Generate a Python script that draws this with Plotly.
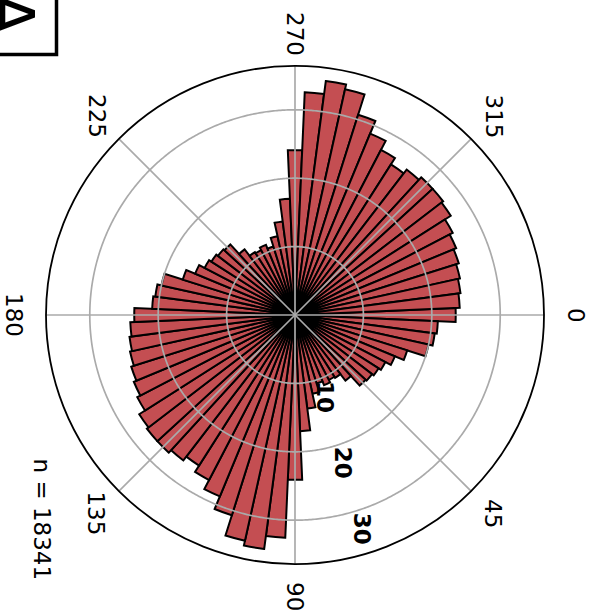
import numpy as np
import plotly.graph_objects as go

# ---- data (5-degree bins, clockwise from east) ----
bin_centers = list(range(0, 360, 5))
counts = [
    23.5, 20.9, 20.6, 20.0, 17.2, 15.8, 14.9, 14.5, 14.2, 14.0,   # 0-45
    12.1, 10.9, 10.7, 11.1, 10.5, 11.8, 13.8, 17.0,               # 50-85
    24.1, 32.6, 34.5, 33.8, 30.7, 28.7, 27.2, 26.1, 26.8,         # 90-130
    27.3, 27.3, 27.0, 26.0, 25.5, 25.1, 24.7, 24.4, 24.1,         # 135-175
    23.5, 20.9, 20.6, 20.0, 17.2, 15.8, 14.9, 14.5, 14.2, 14.0,   # 180-225
    12.1, 10.9, 10.7, 11.1, 10.5, 11.8, 13.8, 17.0,               # 230-265
    24.1, 32.6, 34.5, 33.8, 30.7, 28.7, 27.2, 26.1, 26.8,         # 270-310
    27.3, 27.3, 27.0, 26.0, 25.5, 25.1, 24.7, 24.4, 24.1,         # 315-355
]
bin_width = 5
angle_ticks = [0, 45, 90, 135, 180, 225, 270, 315]
radial_ticks = [10, 20, 30]
n_label = "n = 18341"
panel_label = "A"

# ---- layout geometry (pixels) ----
W, H = 596, 615
CX, CY = 295, 315
R_PX = 249
R_MAX = 36.4
FONT = "DejaVu Sans"
BAR_COLOR = "#C44E52"
GRID = "#aaaaaa"


def px(x):
    return x / W


def py(y):
    return 1 - y / H


fig = go.Figure()
fig.add_trace(go.Barpolar(
    r=counts, theta=bin_centers, width=[bin_width] * len(counts),
    marker=dict(color=BAR_COLOR, line=dict(color="black", width=2.0)),
    hoverinfo="skip",
))

# grid drawn above the bars (as in the reference)
circ_theta = np.linspace(0, 360, 721)
for rv in radial_ticks:
    fig.add_trace(go.Scatterpolar(
        r=[rv] * len(circ_theta), theta=circ_theta, mode="lines",
        line=dict(color=GRID, width=1.7), hoverinfo="skip", showlegend=False))
spoke_r, spoke_t = [], []
for a in angle_ticks:
    spoke_r += [0, R_MAX, None]
    spoke_t += [a, a, None]
fig.add_trace(go.Scatterpolar(
    r=spoke_r, theta=spoke_t, mode="lines",
    line=dict(color=GRID, width=1.7), hoverinfo="skip", showlegend=False))

annotations = []
# angular labels (rotated like the reference)
for a in angle_ticks:
    ang = np.deg2rad(a)
    x = CX + 281 * np.cos(ang)
    y = CY + 281 * np.sin(ang)
    annotations.append(dict(
        x=px(x), y=py(y), xref="paper", yref="paper", text=str(a),
        showarrow=False, textangle=90, xanchor="center", yanchor="middle",
        font=dict(family=FONT, size=23, color="black")))

# radial labels (bold)
scale = R_PX / R_MAX
phi = np.deg2rad(74)
for rv in radial_ticks:
    x = CX + rv * scale * np.cos(phi) + 10.5
    y = CY + rv * scale * np.sin(phi) + 16.5
    annotations.append(dict(
        x=px(x), y=py(y), xref="paper", yref="paper", text="<b>%d</b>" % rv,
        showarrow=False, textangle=90, xanchor="center", yanchor="middle",
        font=dict(family=FONT, size=23, color="black")))

# n label
annotations.append(dict(
    x=px(41.5), y=py(519), xref="paper", yref="paper", text=n_label,
    showarrow=False, textangle=90, xanchor="center", yanchor="middle",
    font=dict(family=FONT, size=23, color="black")))

# panel label (partly outside the page, as in the reference)
annotations.append(dict(
    x=px(10), y=py(14), xref="paper", yref="paper", text=panel_label,
    showarrow=False, textangle=90, xanchor="center", yanchor="middle",
    font=dict(family=FONT, size=64, color="black")))

shapes = [dict(type="rect", xref="paper", yref="paper",
               x0=px(-40), x1=px(56.5), y0=py(-40), y1=py(54.5),
               line=dict(color="black", width=3.5), fillcolor="rgba(0,0,0,0)")]

fig.update_layout(
    width=W, height=H,
    margin=dict(l=0, r=0, t=0, b=0),
    paper_bgcolor="white",
    showlegend=False,
    annotations=annotations,
    shapes=shapes,
    polar=dict(
        domain=dict(x=[px(CX - R_PX), px(CX + R_PX)],
                    y=[py(CY + R_PX), py(CY - R_PX)]),
        bgcolor="white",
        bargap=0,
        radialaxis=dict(range=[0, R_MAX], showline=False, showticklabels=False,
                        ticks="", showgrid=False),
        angularaxis=dict(direction="clockwise", rotation=0, showline=True,
                         linecolor="black", linewidth=1.8, showgrid=False,
                         showticklabels=False, ticks=""),
    ),
)

fig.write_html("out.html",
               config={"displayModeBar": False},
               post_script="document.body.style.margin='0px';"
                           "document.body.style.overflow='hidden';")
